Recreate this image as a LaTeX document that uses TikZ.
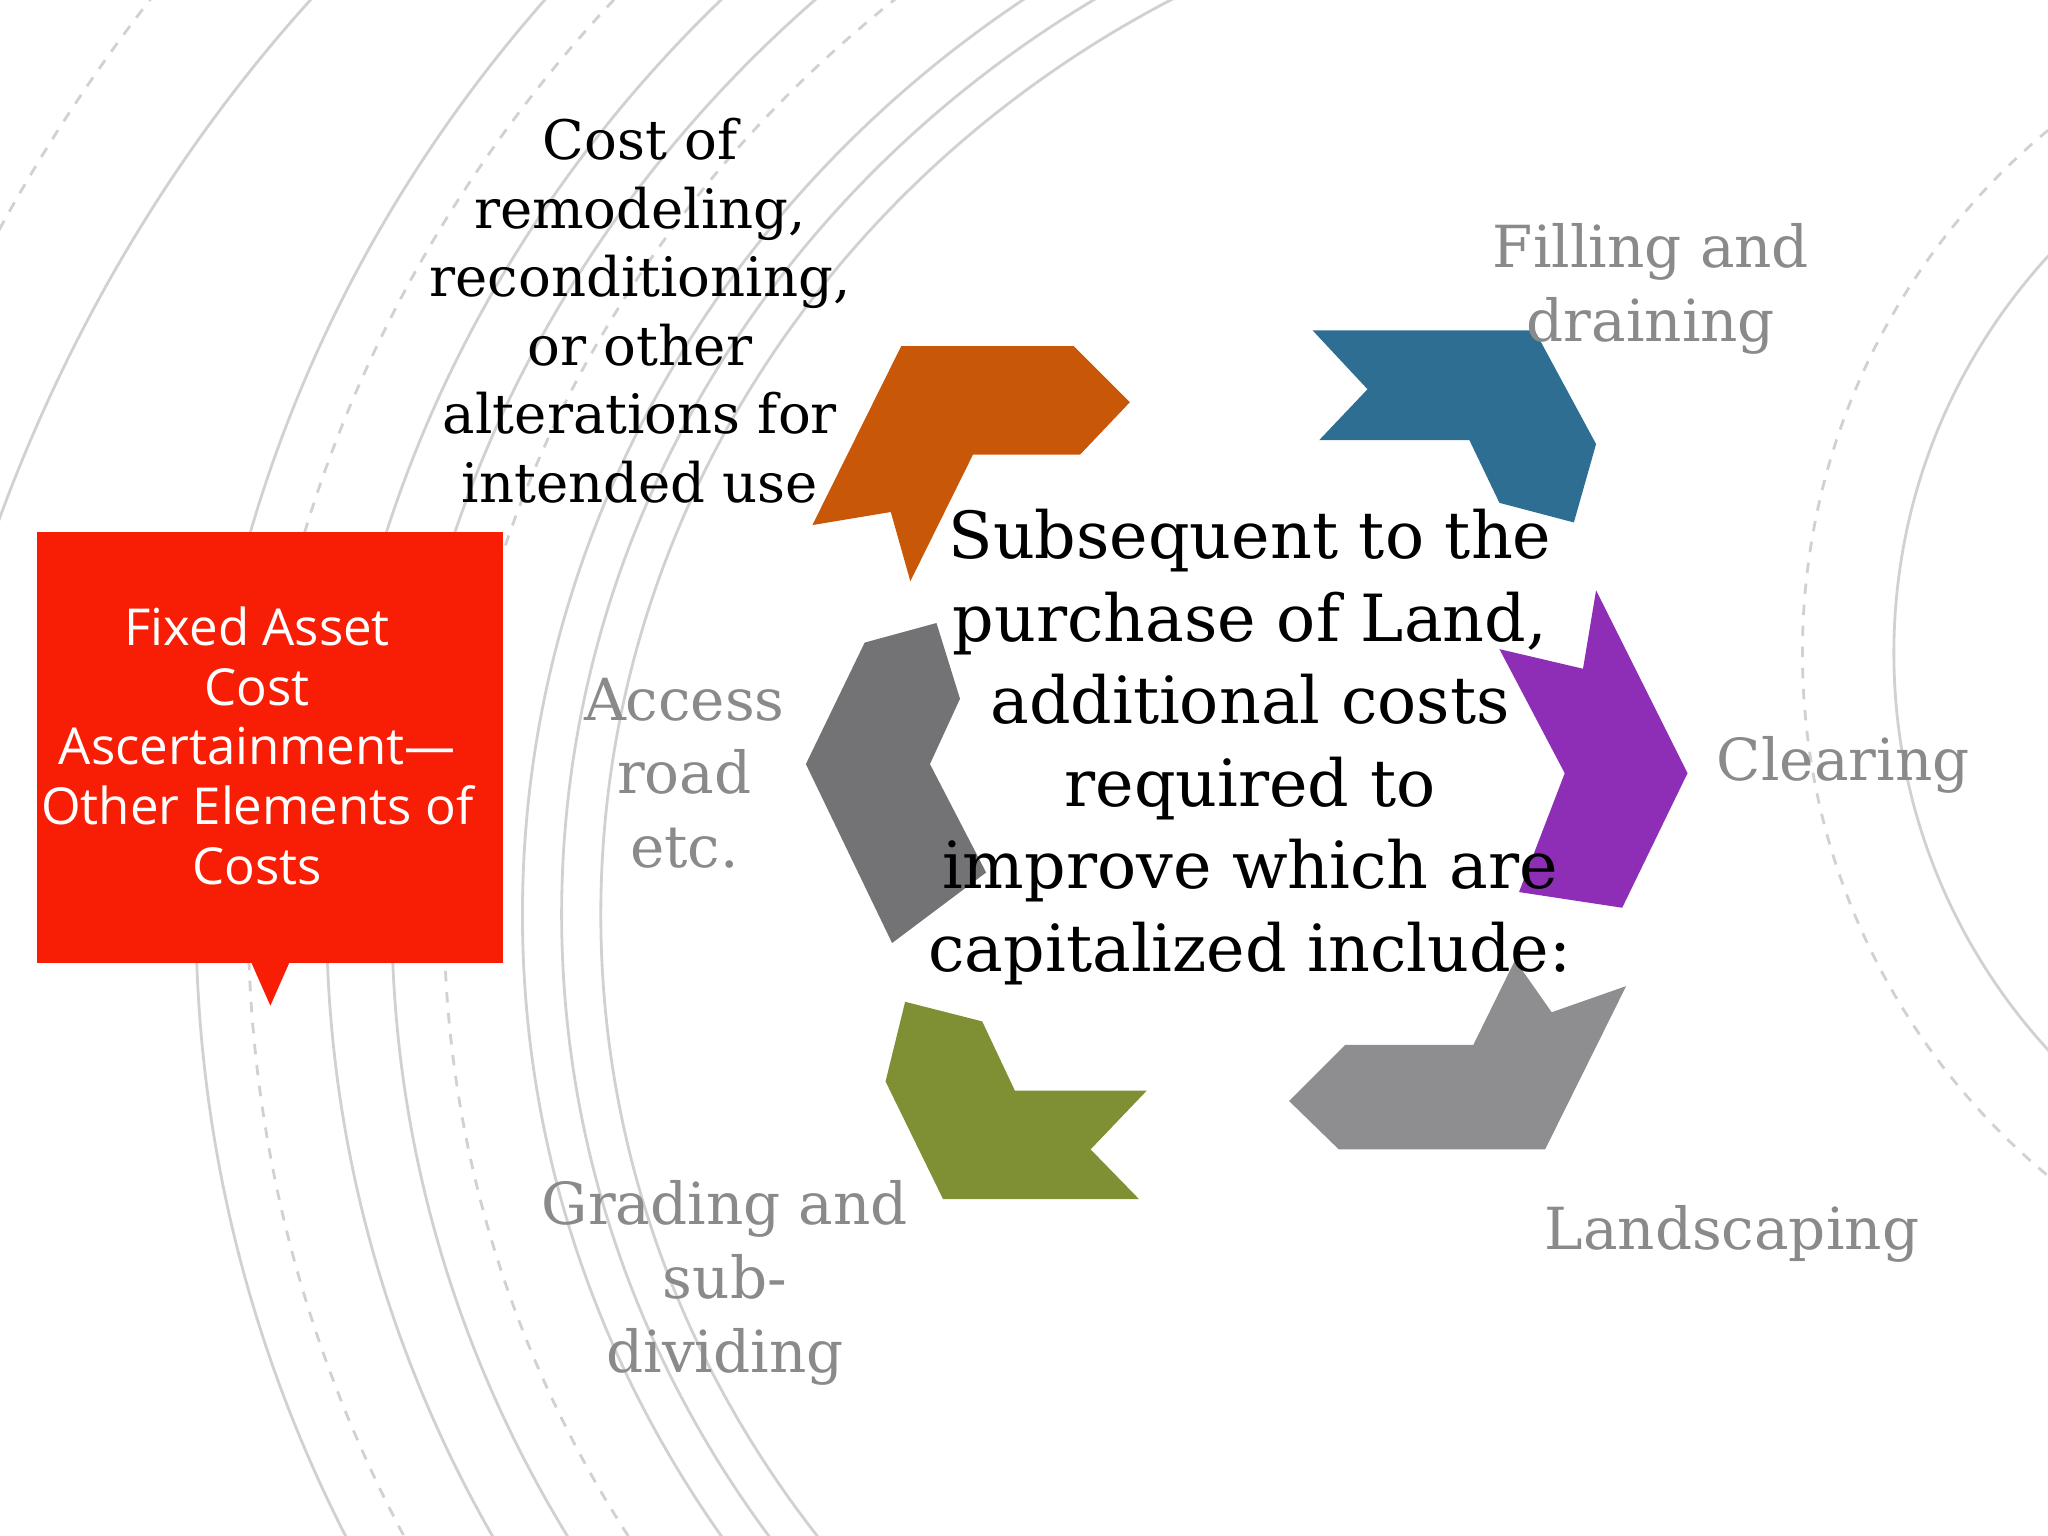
\documentclass[tikz,border=0pt]{standalone}
\usepackage{fontspec}
\setmainfont{DejaVu Serif}
\newfontfamily\boxfont{Open Sans}
\definecolor{orng}{HTML}{C85708}
\definecolor{blu}{HTML}{2E6E93}
\definecolor{purp}{HTML}{8E2DB5}
\definecolor{lgray}{HTML}{8E8D90}
\definecolor{dgray}{HTML}{737275}
\definecolor{grn}{HTML}{7F8F33}
\definecolor{redb}{HTML}{F81E06}
\definecolor{lbl}{HTML}{8A8A8A}
\tikzset{arc/.style={draw=black!18,line width=0.8pt},
 darc/.style={arc,dashed},
 lab/.style={text=lbl,align=center,font=\fontsize{16.5}{21}\selectfont},
 blab/.style={text=black,align=center,font=\fontsize{15.5}{19.5}\selectfont}}
\begin{document}
\begin{tikzpicture}[x=0.013061cm,y=-0.013061cm]
\useasboundingbox (0,0) rectangle (1568,1176);
\begin{scope}
\clip (0,0) rectangle (1568,1176);
\foreach \r/\s in {1150/arc,1110/darc,1050/arc,1000/arc,960/darc,900/arc,870/arc,840/arc}
  \draw[\s] (1300,700) ellipse ({\r} and {\r*0.95});
\foreach \r/\s in {1200/arc,1300/darc,1400/arc}
  \draw[\s] (1000,850) ellipse ({\r*0.9} and {\r});
\foreach \r/\s in {300/arc,360/darc,420/arc}
  \draw[\s] (1900,1500) circle (\r);
\foreach \r/\s in {450/arc,520/darc}
  \draw[\s] (1900,500) circle (\r);
\end{scope}
% chevrons
\fill[orng] (690,265)--(822,265)--(865,308)--(827,348)--(745,348)--(697,445)--(682,392)--(622,402)--cycle;
\fill[blu] (1005,253)--(1175,253)--(1222,340)--(1205,400)--(1148,385)--(1125,337)--(1010,337)--(1047,298)--cycle;
\fill[purp] (1222,452)--(1292,592)--(1242,695)--(1163,683)--(1198,592)--(1148,497)--(1212,512)--cycle;
\fill[lgray] (1245,755)--(1183,880)--(1025,880)--(987,843)--(1030,800)--(1128,800)--(1160,735)--(1188,775)--cycle;
\fill[grn] (693,767)--(752,782)--(777,835)--(878,835)--(835,880)--(872,918)--(722,918)--(678,828)--cycle;
\fill[dgray] (662,492)--(717,477)--(735,535)--(712,585)--(755,668)--(683,722)--(617,585)--cycle;
% red callout
\fill[redb] (28,407) rectangle (385,737);
\fill[redb] (192,736)--(207,770)--(222,736)--cycle;
\node[text=white,align=center,font=\boxfont\fontsize{14.5}{17}\selectfont] (box) at (197,571)
 {Fixed Asset\\Cost\\Ascertainment—\\Other Elements of\\Costs};
% labels
\node[blab] (remod) at (490,238) {Cost of\\remodeling,\\reconditioning,\\or other\\alterations for\\intended use};
\node[lab] (fill) at (1264,221) {Filling and\\draining};
\node[lab,anchor=west] (clear) at (1305,586) {Clearing};
\node[lab] (land) at (1326,945) {Landscaping};
\node[lab] (grade) at (555,982) {Grading and\\sub-\\dividing};
\node[lab] (access) at (524,592) {Access\\road\\etc.};
\node[align=center,font=\fontsize{18.5}{23.5}\selectfont] (center) at (957,572)
 {Subsequent to the\\purchase of Land,\\additional costs\\required to\\improve which are\\capitalized include:};
\end{tikzpicture}
\end{document}
